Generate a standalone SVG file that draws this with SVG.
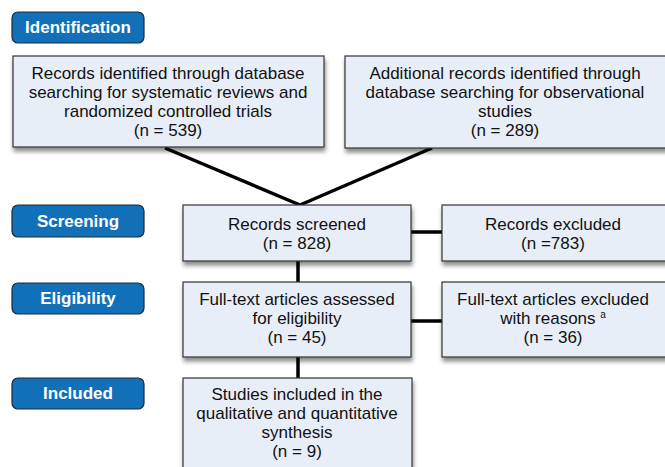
<svg xmlns="http://www.w3.org/2000/svg" width="665" height="467" viewBox="0 0 665 467">
<defs>
<filter id="sh" x="-10%" y="-10%" width="130%" height="140%">
<feDropShadow dx="1" dy="4" stdDeviation="2" flood-color="#000" flood-opacity="0.45"/>
</filter>
<style>
.lab{fill:#1270b8;stroke:#1a2a3a;stroke-width:1.2}
.lt{font-family:"Liberation Sans",Arial,sans-serif;font-weight:bold;font-size:17px;fill:#fff;text-anchor:middle}
.box{fill:#e8eef8;stroke:#333;stroke-width:1.2;filter:url(#sh)}
.bt{font-family:"Liberation Sans",Arial,sans-serif;font-size:17px;fill:#111;text-anchor:middle}
.con{stroke:#000;stroke-width:3.5;fill:none}
</style>
</defs>
<rect width="665" height="467" fill="#fff"/>
<g id="label-identification"><rect class="lab" x="12" y="12" width="132" height="31" rx="6"/><text class="lt" x="78" y="33">Identification</text></g>
<g id="label-screening"><rect class="lab" x="12" y="205" width="132" height="32" rx="6"/><text class="lt" x="78" y="227">Screening</text></g>
<g id="label-eligibility"><rect class="lab" x="12" y="283" width="132" height="31" rx="6"/><text class="lt" x="78" y="304">Eligibility</text></g>
<g id="label-included"><rect class="lab" x="12" y="378" width="132" height="31" rx="6"/><text class="lt" x="78" y="399">Included</text></g>

<g id="connectors">
<line class="con" x1="165" y1="148" x2="300" y2="205"/>
<line class="con" x1="432" y1="148" x2="300" y2="205"/>
<line class="con" x1="411" y1="232" x2="442" y2="232"/>
<line class="con" x1="298" y1="261" x2="298" y2="282"/>
<line class="con" x1="411" y1="321" x2="442" y2="321"/>
<line class="con" x1="298" y1="357" x2="298" y2="378"/>
</g>

<g id="node-db1"><rect class="box" x="13" y="56" width="311" height="91"/>
<text class="bt" x="168" y="79">Records identified through database</text>
<text class="bt" x="168" y="98">searching for systematic reviews and</text>
<text class="bt" x="168" y="117">randomized controlled trials</text>
<text class="bt" x="168" y="136">(n = 539)</text></g>

<g id="node-db2"><rect class="box" x="345" y="56" width="325" height="92"/>
<text class="bt" x="505" y="79">Additional records identified through</text>
<text class="bt" x="505" y="98">database searching for observational</text>
<text class="bt" x="505" y="117">studies</text>
<text class="bt" x="505" y="136">(n = 289)</text></g>

<g id="node-screened"><rect class="box" x="183" y="205" width="228" height="56"/>
<text class="bt" x="297" y="230">Records screened</text>
<text class="bt" x="297" y="249">(n = 828)</text></g>

<g id="node-excluded"><rect class="box" x="442" y="205" width="228" height="56"/>
<text class="bt" x="553" y="230">Records excluded</text>
<text class="bt" x="553" y="249">(n =783)</text></g>

<g id="node-fulltext"><rect class="box" x="183" y="282" width="228" height="75"/>
<text class="bt" x="297" y="305">Full-text articles assessed</text>
<text class="bt" x="297" y="324">for eligibility</text>
<text class="bt" x="297" y="343">(n = 45)</text></g>

<g id="node-ftexcluded"><rect class="box" x="442" y="282" width="228" height="75"/>
<text class="bt" x="553" y="305">Full-text articles excluded</text>
<text class="bt" x="553" y="324">with reasons <tspan font-size="10" dy="-6">a</tspan></text>
<text class="bt" x="553" y="343">(n = 36)</text></g>

<g id="node-included"><rect class="box" x="183" y="378" width="229" height="100"/>
<text class="bt" x="297" y="400">Studies included in the</text>
<text class="bt" x="297" y="419">qualitative and quantitative</text>
<text class="bt" x="297" y="438">synthesis</text>
<text class="bt" x="297" y="457">(n = 9)</text></g>
</svg>
